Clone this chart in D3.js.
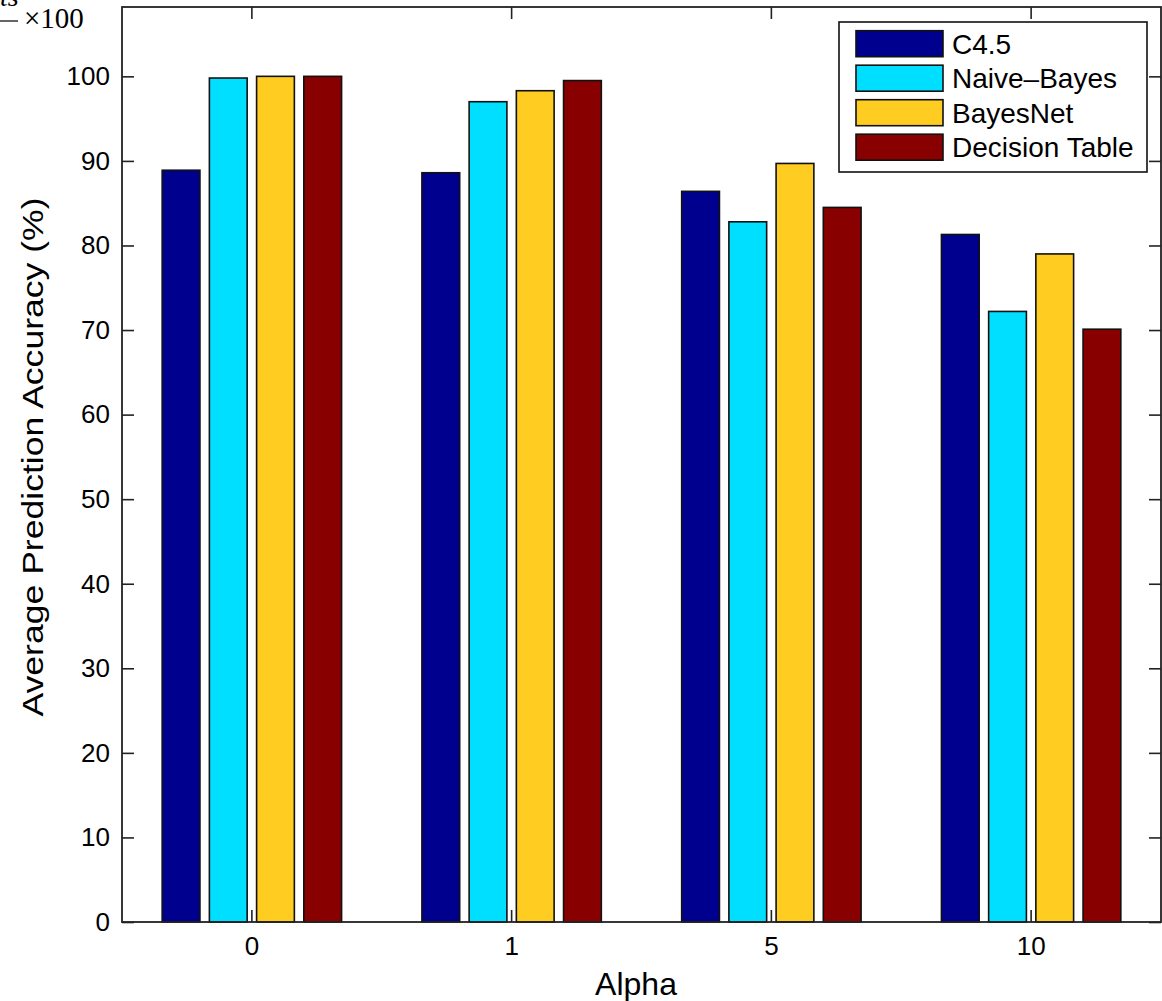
<!DOCTYPE html>
<html>
<head>
<meta charset="utf-8">
<script src="https://cdn.jsdelivr.net/npm/d3@7"></script>
<style>
  body { margin: 0; background: #fff; }
  svg { display: block; font-family: "Liberation Sans", Arial, sans-serif; }
</style>
</head>
<body>
<div id="chart"></div>
<script>
// data
const alphas = ['0', '1', '5', '10'];
const series = ['C4.5', 'Naive\u2013Bayes', 'BayesNet', 'Decision Table'];
const c45 = [88.9, 88.6, 86.4, 81.3];
const naiveBayes = [99.8, 97.0, 82.8, 72.2];
const bayesNet = [100.0, 98.3, 89.7, 79.0];
const decisionTable = [100.0, 99.5, 84.5, 70.1];
const yTicks = [0, 10, 20, 30, 40, 50, 60, 70, 80, 90, 100];
const colors = ['#00008f', '#00dfff', '#ffcc22', '#880000'];

const values = [c45, naiveBayes, bayesNet, decisionTable];

const W = 1162, H = 1001;
const margin = { top: 7, right: 1, bottom: 79, left: 122 };

const svg = d3.select('#chart')
    .append('svg')
    .attr('width', W)
    .attr('height', H);

const x0 = d3.scaleBand()
    .domain(alphas)
    .range([margin.left, W - margin.right])
    .padding(0);

const groupW = x0.bandwidth() * 0.727;
const x1 = d3.scaleBand()
    .domain(series)
    .range([0, groupW])
    .paddingInner(0.2)
    .paddingOuter(0.1);

const y = d3.scaleLinear()
    .domain([0, 108.2])
    .range([H - margin.bottom, margin.top]);

// bars
const rows = alphas.map((a, i) => ({ alpha: a, vals: series.map((s, j) => ({ s, j, v: values[j][i] })) }));

svg.append('g')
    .selectAll('g')
    .data(rows)
    .join('g')
    .attr('transform', d => `translate(${x0(d.alpha) + (x0.bandwidth() - groupW) / 2},0)`)
    .selectAll('rect')
    .data(d => d.vals)
    .join('rect')
    .attr('x', d => x1(d.s))
    .attr('y', d => y(d.v))
    .attr('width', x1.bandwidth())
    .attr('height', d => y(0) - y(d.v))
    .attr('fill', d => colors[d.j])
    .attr('stroke', '#111')
    .attr('stroke-width', 1.6);

// axes (ticks pointing inward, box around the plot)
const tickLen = 12;
const axisStyle = g => {
    g.select('.domain').remove();
    g.selectAll('line').attr('stroke', '#222').attr('stroke-width', 1.6);
    g.selectAll('text')
        .attr('font-family', '"Liberation Sans", Arial, sans-serif')
        .attr('font-size', 26)
        .attr('fill', '#000');
};

svg.append('g')
    .attr('transform', `translate(0,${y(0)})`)
    .call(d3.axisBottom(x0).tickSize(-tickLen).tickPadding(15).tickSizeOuter(0))
    .call(axisStyle);

svg.append('g')
    .attr('transform', `translate(0,${margin.top})`)
    .call(d3.axisTop(x0).tickSize(-tickLen).tickFormat('').tickSizeOuter(0))
    .call(axisStyle);

svg.append('g')
    .attr('transform', `translate(${margin.left},0)`)
    .call(d3.axisLeft(y).tickValues(yTicks).tickSize(-tickLen).tickPadding(12).tickSizeOuter(0))
    .call(axisStyle);

svg.append('g')
    .attr('transform', `translate(${W - margin.right},0)`)
    .call(d3.axisRight(y).tickValues(yTicks).tickSize(-tickLen).tickFormat('').tickSizeOuter(0))
    .call(axisStyle);

svg.append('rect')
    .attr('x', margin.left)
    .attr('y', margin.top)
    .attr('width', W - margin.right - margin.left)
    .attr('height', y(0) - margin.top)
    .attr('fill', 'none')
    .attr('stroke', '#222')
    .attr('stroke-width', 1.8);

// axis labels
svg.append('text')
    .attr('x', 636)
    .attr('y', 995)
    .attr('text-anchor', 'middle')
    .attr('font-size', 32)
    .text('Alpha');

svg.append('text')
    .attr('transform', 'translate(43,457) rotate(-90)')
    .attr('text-anchor', 'middle')
    .attr('font-size', 30)
    .attr('textLength', 519)
    .attr('lengthAdjust', 'spacingAndGlyphs')
    .text('Average Prediction Accuracy (%)');

// legend
const legend = svg.append('g');
legend.append('rect')
    .attr('x', 839).attr('y', 22)
    .attr('width', 308).attr('height', 150)
    .attr('fill', '#fff')
    .attr('stroke', '#111')
    .attr('stroke-width', 1.6);

const item = legend.selectAll('g.item')
    .data(series)
    .join('g')
    .attr('class', 'item')
    .attr('transform', (d, i) => `translate(0,${30.7 + i * 34.5})`);

item.append('rect')
    .attr('x', 856).attr('y', 0)
    .attr('width', 87).attr('height', 26)
    .attr('fill', (d, i) => colors[i])
    .attr('stroke', '#111')
    .attr('stroke-width', 1.6);

item.append('text')
    .attr('x', 952).attr('y', 23)
    .attr('font-size', 28)
    .text(d => d);

// stray fragment of the equation above the figure
svg.append('text')
    .attr('x', 0).attr('y', 6)
    .attr('font-family', '"Liberation Serif", "DejaVu Serif", serif')
    .attr('font-style', 'italic')
    .attr('font-size', 28)
    .text('ts');
svg.append('line')
    .attr('x1', 0).attr('x2', 18)
    .attr('y1', 21).attr('y2', 21)
    .attr('stroke', '#000').attr('stroke-width', 1.2);
svg.append('text')
    .attr('x', 24).attr('y', 28)
    .attr('font-family', '"Liberation Serif", "DejaVu Serif", serif')
    .attr('font-size', 29)
    .text('\u00d7100');
</script>
</body>
</html>
